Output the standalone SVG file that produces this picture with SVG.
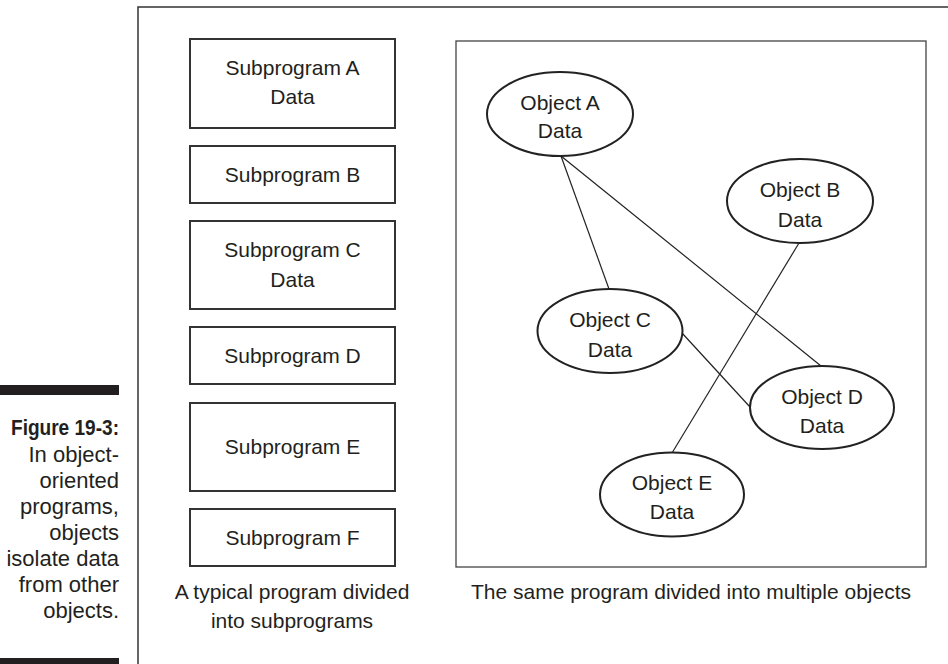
<svg xmlns="http://www.w3.org/2000/svg" width="948" height="664" viewBox="0 0 948 664">
<style>
text{font-family:"Liberation Sans",Arial,sans-serif;font-size:21px;fill:#231f20;text-anchor:middle}
.cap{font-size:22px;text-anchor:end}
.capb{font-size:22px;text-anchor:end;font-weight:bold}
.box{fill:#fff;stroke:#333;stroke-width:2}
.ell{fill:#fff;stroke:#222;stroke-width:2}
.conn{stroke:#222;stroke-width:1.2;fill:none}
.frame{stroke:#333;stroke-width:1.5;fill:none}
</style>
<rect width="948" height="664" fill="#fff"/>
<g id="sidebar">
<rect x="0" y="385" width="119" height="10" fill="#231f20"/>
<rect x="0" y="658" width="119" height="6" fill="#231f20"/>
<text class="capb" x="119" y="435" textLength="108" lengthAdjust="spacingAndGlyphs">Figure 19-3:</text>
<text class="cap" x="119" y="462">In object-</text>
<text class="cap" x="119" y="488">oriented</text>
<text class="cap" x="119" y="514">programs,</text>
<text class="cap" x="119" y="540">objects</text>
<text class="cap" x="119" y="566">isolate data</text>
<text class="cap" x="119" y="592">from other</text>
<text class="cap" x="119" y="618">objects.</text>
</g>
<path class="frame" d="M948,7 H138 V664"/>
<g id="subA"><rect class="box" x="190" y="39" width="205" height="89"/><text x="292.5" y="75">Subprogram A</text><text x="292.5" y="104">Data</text></g>
<g id="subB"><rect class="box" x="190" y="146" width="205" height="57"/><text x="292.5" y="182">Subprogram B</text></g>
<g id="subC"><rect class="box" x="190" y="221" width="205" height="88"/><text x="292.5" y="257">Subprogram C</text><text x="292.5" y="287">Data</text></g>
<g id="subD"><rect class="box" x="190" y="327" width="205" height="57"/><text x="292.5" y="363">Subprogram D</text></g>
<g id="subE"><rect class="box" x="190" y="403" width="205" height="88"/><text x="292.5" y="454">Subprogram E</text></g>
<g id="subF"><rect class="box" x="190" y="509" width="205" height="57"/><text x="292.5" y="545">Subprogram F</text></g>
<g id="captionLeft"><text x="292" y="599">A typical program divided</text><text x="292" y="628">into subprograms</text></g>
<g id="objectsFrame"><rect x="456" y="41" width="470" height="526" fill="none" stroke="#444" stroke-width="1.3"/></g>
<g id="connectors">
<line class="conn" x1="561" y1="156" x2="609" y2="289"/>
<line class="conn" x1="561" y1="156" x2="821" y2="366"/>
<line class="conn" x1="799" y1="243" x2="672" y2="453"/>
<line class="conn" x1="682" y1="333" x2="750" y2="407"/>
</g>
<g id="objA"><ellipse class="ell" cx="560" cy="114" rx="73" ry="42"/><text x="560" y="110">Object A</text><text x="560" y="138">Data</text></g>
<g id="objB"><ellipse class="ell" cx="800" cy="201" rx="73" ry="42"/><text x="800" y="197">Object B</text><text x="800" y="227">Data</text></g>
<g id="objC"><ellipse class="ell" cx="610" cy="331" rx="72.5" ry="42"/><text x="610" y="327">Object C</text><text x="610" y="357">Data</text></g>
<g id="objD"><ellipse class="ell" cx="822" cy="407.5" rx="72" ry="41.5"/><text x="822" y="404">Object D</text><text x="822" y="433">Data</text></g>
<g id="objE"><ellipse class="ell" cx="672" cy="494.5" rx="72" ry="42"/><text x="672" y="490">Object E</text><text x="672" y="519">Data</text></g>
<g id="captionRight"><text x="691" y="599">The same program divided into multiple objects</text></g>
</svg>
